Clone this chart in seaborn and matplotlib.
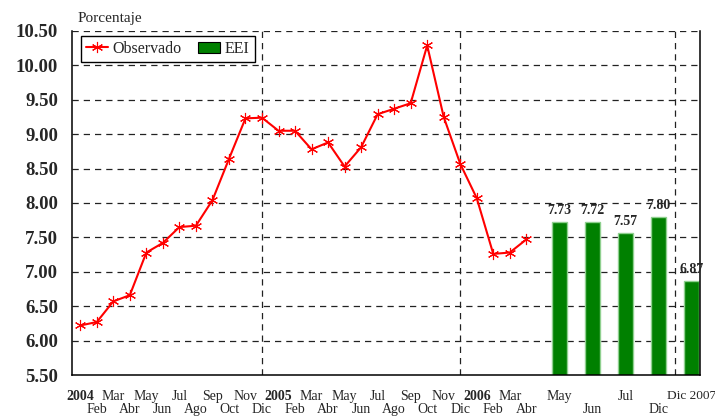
import matplotlib
matplotlib.use('Agg')
import matplotlib.pyplot as plt
import matplotlib.patches as mpatches
import seaborn as sns
import numpy as np

# observed series, Jan 2004 - Apr 2006
observed = [6.22, 6.27, 6.57, 6.66, 7.28, 7.42, 7.65, 7.67, 8.04, 8.64, 9.23, 9.24,
            9.05, 9.05, 8.78, 8.88, 8.53, 8.81, 9.29, 9.37, 9.45, 10.29, 9.25, 8.57,
            8.07, 7.26, 7.28, 7.47]
# EEI survey forecasts
eei_labels = ['7.73', '7.72', '7.57', '7.80', '6.87']
eei_values = [7.73, 7.72, 7.57, 7.80, 6.87]
eei_pos = [29, 31, 33, 35, 37]

tick_labels = ['2004', 'Feb', 'Mar', 'Abr', 'May', 'Jun', 'Jul', 'Ago', 'Sep', 'Oct', 'Nov', 'Dic',
               '2005', 'Feb', 'Mar', 'Abr', 'May', 'Jun', 'Jul', 'Ago', 'Sep', 'Oct', 'Nov', 'Dic',
               '2006', 'Feb', 'Mar', 'Abr',
               '', 'May', '', 'Jun', '', 'Jul', '', 'Dic', '', 'Dic 2007']
bottom_row = set(range(1, 28, 2)) | {31, 35}
year_labels = {'2004', '2005', '2006'}

sns.set_style('white')
plt.rcParams['font.family'] = ['Liberation Serif', 'DejaVu Serif']

fig = plt.figure(figsize=(7.15, 4.17), dpi=100)
ax = fig.add_axes([0.1007, 0.1007, 0.878, 0.825])

grid_kw = dict(color='#222222', lw=0.9, ls=(0, (5, 4)), zorder=0)
for yv in np.arange(6.0, 10.51, 0.5):
    ax.axhline(yv, **grid_kw)
for xv in [11, 23, 36]:
    ax.axvline(xv, **grid_kw)

ax.bar(eei_pos, eei_values, width=0.9, bottom=0, color='#008000',
       edgecolor='#8fd08f', lw=1, zorder=2)
for xp, v, lab in zip(eei_pos, eei_values, eei_labels):
    ax.text(xp, v + 0.07, lab, ha='center', va='bottom', fontsize=10,
            fontweight='bold', zorder=4)

sns.lineplot(x=list(range(len(observed))), y=observed, ax=ax, color='red', lw=1.5,
             marker=(6, 2, 0), markersize=8, markeredgecolor='red',
             markeredgewidth=0.8, zorder=3)

ax.set_xlim(-0.5, 37.5)
ax.set_ylim(5.5, 10.5)
ax.set_yticks(np.arange(5.5, 10.51, 0.5))
ax.set_yticklabels([f'{v:.2f}' for v in np.arange(5.5, 10.51, 0.5)],
                   fontsize=13.5, fontweight='bold')

# two rows of month labels: top row on major ticks, bottom row on minor ticks
top_pos = [i for i in range(len(tick_labels)) if i not in bottom_row]
bot_pos = sorted(bottom_row)
ax.set_xticks(top_pos)
ax.set_xticklabels([tick_labels[i] for i in top_pos], fontsize=10)
ax.set_xticks(bot_pos, minor=True)
ax.set_xticklabels([tick_labels[i] for i in bot_pos], minor=True, fontsize=10)
for lab in ax.get_xticklabels():
    if lab.get_text() in year_labels:
        lab.set_fontweight('bold')
    if lab.get_text() == 'Dic 2007':
        lab.set_fontsize(9.6)

ax.tick_params(axis='both', which='both', direction='out', length=7, width=1,
               color='black')
ax.tick_params(axis='x', which='major', pad=4)
ax.tick_params(axis='x', which='minor', pad=13)
ax.tick_params(axis='y', pad=3)

ax.spines['top'].set_visible(False)
for s in ['left', 'bottom', 'right']:
    ax.spines[s].set_color('black')
    ax.spines[s].set_linewidth(1.1)

fig.text(0.109, 0.955, 'Porcentaje', fontsize=11, ha='left', va='center')

handles = [plt.Line2D([], [], color='red', lw=1.5, marker=(6, 2, 0), markersize=8,
                      markeredgewidth=0.8),
           mpatches.Patch(facecolor='#008000', edgecolor='black', lw=0.8)]
leg = ax.legend(handles, ['Observado', 'EEI'], loc='upper left',
                bbox_to_anchor=(0.014, 0.985), ncol=2, fontsize=11.5, frameon=True,
                fancybox=False, edgecolor='black', framealpha=1, handlelength=1.4,
                handletextpad=0.3, columnspacing=1.0, borderpad=0.3, borderaxespad=0)
leg.get_frame().set_linewidth(1)

fig.savefig('out.png', dpi=100)
